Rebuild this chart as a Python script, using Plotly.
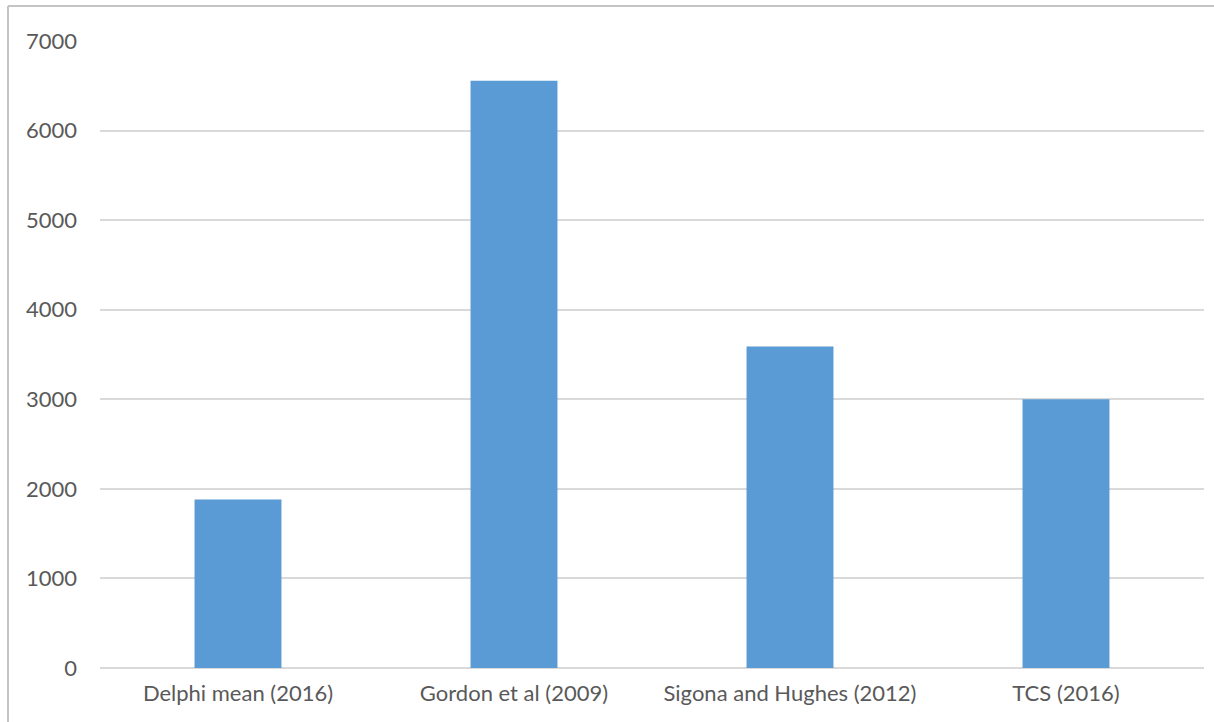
import plotly.graph_objects as go

categories = ["Delphi mean (2016)", "Gordon et al (2009)", "Sigona and Hughes (2012)", "TCS (2016)"]
values = [1880, 6555, 3590, 3000]
y_ticks = [0, 1000, 2000, 3000, 4000, 5000, 6000, 7000]

W, H = 1214, 722
ML, MR, MT, MB = 100, 10, 41, 54
plot_w = W - ML - MR
plot_h = H - MT - MB

def px_x(px):
    return (px - ML) / plot_w

def px_y(py):
    return (H - MB - py) / plot_h

fig = go.Figure(
    go.Bar(
        x=categories,
        y=values,
        marker=dict(color="#5b9bd5", line=dict(width=0)),
    )
)

font = dict(family="Lato, 'Open Sans', sans-serif", size=22, color="#595959")

fig.update_layout(
    width=W,
    height=H,
    margin=dict(l=ML, r=MR, t=MT, b=MB),
    paper_bgcolor="white",
    plot_bgcolor="white",
    bargap=0.685,
    showlegend=False,
    font=font,
    xaxis=dict(
        showgrid=False,
        showline=False,
        zeroline=False,
        ticks="",
        tickfont=font,
        ticklabelstandoff=10,
    ),
    yaxis=dict(
        range=[0, 7000],
        tickvals=y_ticks,
        ticktext=[str(v) for v in y_ticks],
        showgrid=True,
        gridcolor="#d9d9d9",
        gridwidth=2,
        zeroline=True,
        zerolinecolor="#d9d9d9",
        zerolinewidth=2,
        showline=False,
        ticks="",
        tickfont=font,
        ticklabelstandoff=22,
    ),
    shapes=[
        # chart frame (left and top edges)
        dict(type="line", xref="paper", yref="paper",
             x0=px_x(8), x1=px_x(8), y0=px_y(H + 5), y1=px_y(6),
             line=dict(color="#c4c4c4", width=2)),
        dict(type="line", xref="paper", yref="paper",
             x0=px_x(8), x1=px_x(W + 5), y0=px_y(6), y1=px_y(6),
             line=dict(color="#c4c4c4", width=2)),
    ],
)

fig.write_html("out.html")
